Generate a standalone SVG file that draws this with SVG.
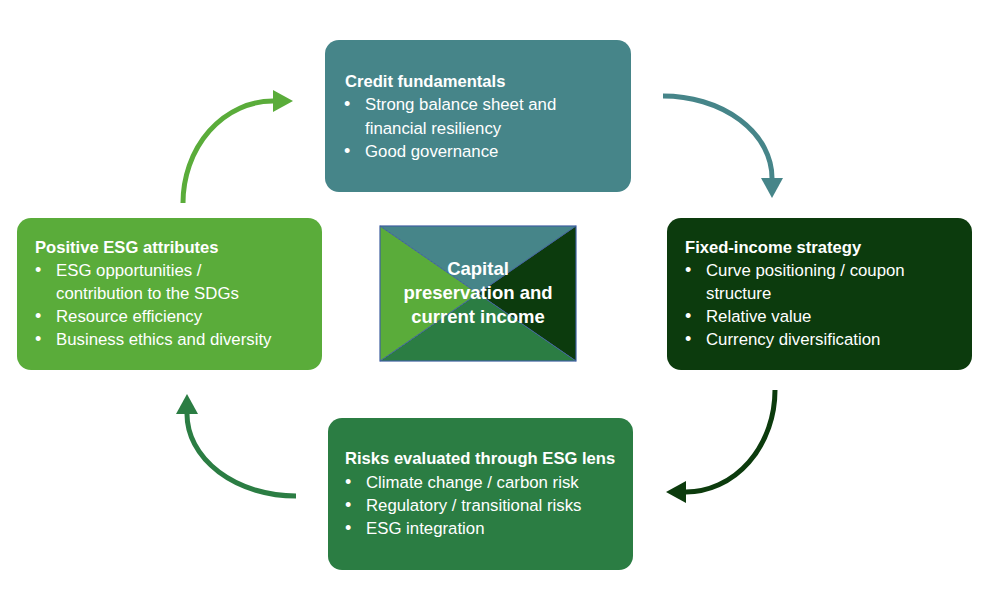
<svg xmlns="http://www.w3.org/2000/svg" width="1000" height="593" viewBox="0 0 1000 593">
<style>
  text { font-family: "Liberation Sans", Arial, sans-serif; fill: #ffffff; }
  .title { font-size: 16.6px; font-weight: bold; }
  .item { font-size: 16.8px; }
  .bullet { font-size: 18px; }
  .center { font-size: 18.5px; font-weight: bold; text-anchor: middle; }
  .conn { fill: none; stroke-width: 5; }
</style>
<defs>
  <marker id="ahTeal" viewBox="0 0 20 22" refX="0" refY="11" markerWidth="20" markerHeight="22" markerUnits="userSpaceOnUse" orient="auto"><path d="M0,0 L20,11 L0,22 z" fill="#468589"/></marker>
  <marker id="ahDark" viewBox="0 0 20 22" refX="0" refY="11" markerWidth="20" markerHeight="22" markerUnits="userSpaceOnUse" orient="auto"><path d="M0,0 L20,11 L0,22 z" fill="#0c3b0d"/></marker>
  <marker id="ahMid" viewBox="0 0 20 22" refX="0" refY="11" markerWidth="20" markerHeight="22" markerUnits="userSpaceOnUse" orient="auto"><path d="M0,0 L20,11 L0,22 z" fill="#2b7d43"/></marker>
  <marker id="ahLight" viewBox="0 0 20 22" refX="0" refY="11" markerWidth="20" markerHeight="22" markerUnits="userSpaceOnUse" orient="auto"><path d="M0,0 L20,11 L0,22 z" fill="#5aac3a"/></marker>
</defs>
<rect width="1000" height="593" fill="#ffffff"/>

<g id="connectors">
  <path class="conn" stroke="#468589" d="M663,96 A109,82 0 0 1 772,178" marker-end="url(#ahTeal)"/>
  <path class="conn" stroke="#0c3b0d" d="M775,390 A89,102 0 0 1 686,492" marker-end="url(#ahDark)"/>
  <path class="conn" stroke="#2b7d43" d="M296,496 A109,82 0 0 1 187,414" marker-end="url(#ahMid)"/>
  <path class="conn" stroke="#5aac3a" d="M183,203 A90,102 0 0 1 273,101" marker-end="url(#ahLight)"/>
</g>

<g id="credit-fundamentals">
  <rect x="325" y="40" width="306" height="152" rx="14" fill="#468589"/>
  <text class="title" x="345" y="87">Credit fundamentals</text>
  <text class="bullet" x="344" y="110">•</text><text class="item" x="365" y="110">Strong balance sheet and</text>
  <text class="item" x="365" y="134">financial resiliency</text>
  <text class="bullet" x="344" y="157">•</text><text class="item" x="365" y="157">Good governance</text>
</g>

<g id="fixed-income-strategy">
  <rect x="667" y="218" width="305" height="152" rx="14" fill="#0c3b0d"/>
  <text class="title" x="685" y="253">Fixed-income strategy</text>
  <text class="bullet" x="685" y="276">•</text><text class="item" x="706" y="276">Curve positioning / coupon</text>
  <text class="item" x="706" y="299">structure</text>
  <text class="bullet" x="685" y="322">•</text><text class="item" x="706" y="322">Relative value</text>
  <text class="bullet" x="685" y="345">•</text><text class="item" x="706" y="345">Currency diversification</text>
</g>

<g id="risks-esg-lens">
  <rect x="328" y="418" width="305" height="152" rx="14" fill="#2b7d43"/>
  <text class="title" x="345" y="464">Risks evaluated through ESG lens</text>
  <text class="bullet" x="345" y="488">•</text><text class="item" x="366" y="488">Climate change / carbon risk</text>
  <text class="bullet" x="345" y="511">•</text><text class="item" x="366" y="511">Regulatory / transitional risks</text>
  <text class="bullet" x="345" y="534">•</text><text class="item" x="366" y="534">ESG integration</text>
</g>

<g id="positive-esg-attributes">
  <rect x="17" y="218" width="305" height="152" rx="14" fill="#5aac3a"/>
  <text class="title" x="35" y="253">Positive ESG attributes</text>
  <text class="bullet" x="35" y="276">•</text><text class="item" x="56" y="276">ESG opportunities /</text>
  <text class="item" x="56" y="299">contribution to the SDGs</text>
  <text class="bullet" x="35" y="322">•</text><text class="item" x="56" y="322">Resource efficiency</text>
  <text class="bullet" x="35" y="345">•</text><text class="item" x="56" y="345">Business ethics and diversity</text>
</g>

<g id="capital-preservation">
  <polygon points="380,226 576,226 478,293.5" fill="#468589"/>
  <polygon points="576,226 576,361 478,293.5" fill="#0c3b0d"/>
  <polygon points="576,361 380,361 478,293.5" fill="#2b7d43"/>
  <polygon points="380,361 380,226 478,293.5" fill="#5aac3a"/>
  <path d="M380,226 L576,361 M576,226 L380,361" stroke="#3f5fa0" stroke-width="1" fill="none"/>
  <rect x="380" y="226" width="196" height="135" fill="none" stroke="#3f5fa0" stroke-width="1.2"/>
  <text class="center" x="478" y="275">Capital</text>
  <text class="center" x="478" y="299">preservation and</text>
  <text class="center" x="478" y="323">current income</text>
</g>
</svg>
